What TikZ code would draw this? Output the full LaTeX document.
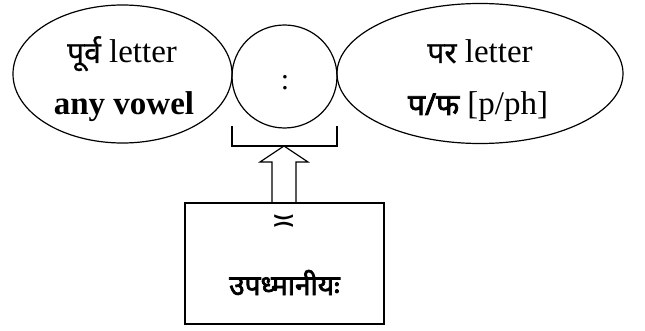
\documentclass[tikz,border=0pt]{standalone}
\usepackage{fontspec}
\setmainfont{Liberation Serif}
\newfontfamily\deva[Script=Devanagari, FakeBold=0.8]{Noto Sans}
\newfontfamily\devab[Script=Devanagari, FakeBold=2.5]{Noto Sans}
\newfontfamily\symf{DejaVu Sans}
\usetikzlibrary{shapes.geometric}
\tikzset{
  oval/.style={draw, ellipse, inner sep=0pt},
  txt/.style={inner sep=0pt, anchor=base},
  big/.style={font=\fontsize{33}{38}\selectfont},
}
\newcommand{\dv}{\deva\fontsize{30}{34}\selectfont}
\newcommand{\dvb}{\devab\fontsize{30}{34}\selectfont}
\begin{document}
\begin{tikzpicture}[x=1pt,y=-1pt, line width=1.2pt]
\useasboundingbox (0,0) rectangle (645,331);
% ellipses
\node[oval, minimum width=219pt, minimum height=138pt] (left) at (122.5,74) {};
\node[oval, minimum width=105pt, minimum height=103pt] (mid) at (284.5,76.5) {};
\node[oval, minimum width=286pt, minimum height=140pt] (right) at (480,73.5) {};
% texts
\node[txt, big] (l1) at (122,63) {{\dv पूर्व} letter};
\node[txt, big] (l2) at (124,115) {\bfseries any vowel};
\node[txt, font=\fontsize{30}{34}\selectfont] (colon) at (285,90) {:};
\node[txt, big] (r1) at (480,63) {{\dv पर} letter};
\node[txt, big] (r2) at (478,115) {{\dvb प/फ} [p/ph]};
% box
\node[draw, rectangle, minimum width=199pt, minimum height=121pt, inner sep=0pt] (box) at (284.5,263.5) {};
\node[inner sep=0pt, font=\symf\fontsize{30}{34}\selectfont] (sym) at (284.5,223) {≍};
\node[txt, font=\devab\fontsize{28}{32}\selectfont] (name) at (284.5,295) {उपध्मानीयः};
% bracket
\coordinate (bl) at (232,126);
\coordinate (br) at (337,126);
\draw (bl) -- (232,146) -- (337,146) -- (br);
% hollow arrow from box to bracket
\coordinate (tip) at (284,146);
\draw[line join=miter] (272,203) -- (272,162) -- (260,162) -- (tip) -- (308,162) -- (296,162) -- (296,203);
\end{tikzpicture}
\end{document}
